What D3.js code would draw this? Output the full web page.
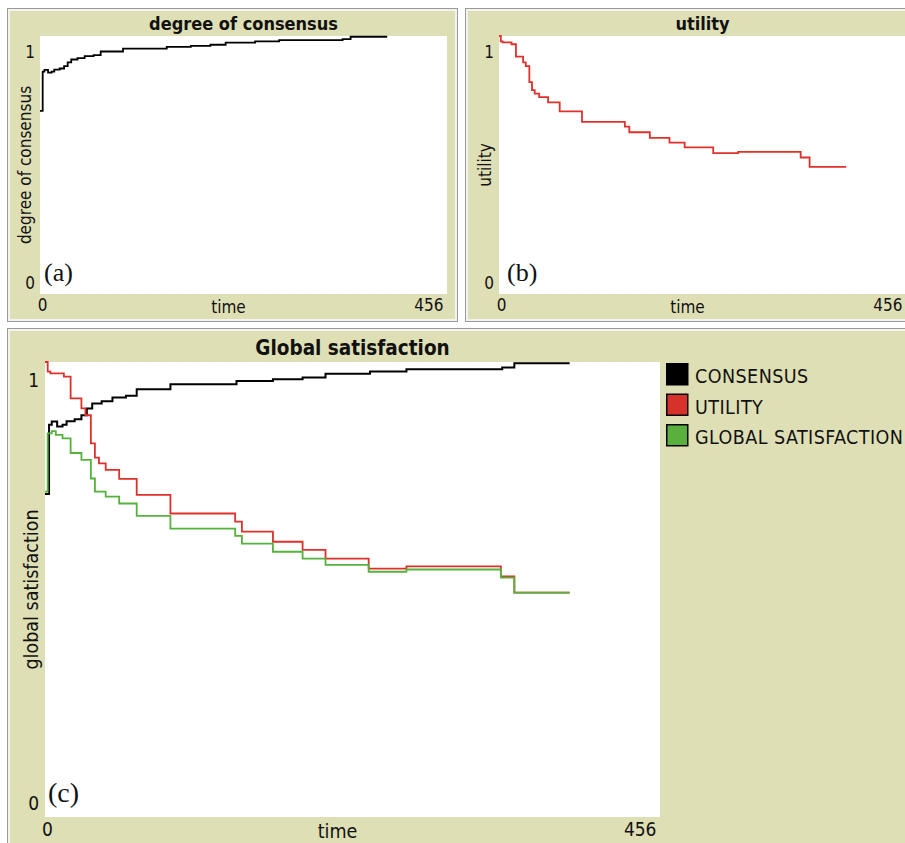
<!DOCTYPE html>
<html>
<head>
<meta charset="utf-8">
<script src="https://cdn.jsdelivr.net/npm/d3@7"></script>
<style>
  html, body { margin: 0; padding: 0; background: #ffffff; }
  svg { display: block; }
  text { font-family: 'DejaVu Sans Condensed', 'DejaVu Sans', sans-serif; font-stretch: condensed; fill: #111; }
  .serif { font-family: 'Liberation Serif', 'DejaVu Serif', serif; font-stretch: normal; }
</style>
</head>
<body>
<script>
// ---------------- data ----------------
const timeMax = 456;
const xTicks = [0, 456];
const yTicks = [0, 1];

const consensusT = [0, 3, 5, 9, 13, 16, 22, 27, 31, 35, 42, 50, 60, 68, 93, 142, 169, 191, 208, 241, 268, 339, 348, 389];
const consensusV = [0.71, 0.862, 0.869, 0.858, 0.862, 0.870, 0.874, 0.883, 0.898, 0.909, 0.914, 0.922, 0.926, 0.940, 0.951, 0.958, 0.962, 0.966, 0.974, 0.979, 0.984, 0.988, 0.997, 0.997];

const utilityT = [0, 2, 4, 14, 19, 27, 30, 34, 37, 40, 45, 55, 68, 93, 141, 146, 169, 191, 208, 240, 268, 338, 348, 389];
const utilityV = [1.0, 0.979, 0.975, 0.968, 0.920, 0.898, 0.883, 0.821, 0.790, 0.777, 0.763, 0.743, 0.708, 0.667, 0.649, 0.627, 0.605, 0.587, 0.568, 0.546, 0.551, 0.529, 0.493, 0.493];

const satisfactionT = [0, 2, 5, 8, 13, 19, 27, 34, 37, 45, 55, 68, 93, 141, 146, 169, 191, 208, 240, 268, 338, 348, 389];
const satisfactionV = [0.715, 0.843, 0.848, 0.840, 0.832, 0.800, 0.785, 0.744, 0.715, 0.704, 0.689, 0.662, 0.634, 0.618, 0.601, 0.583, 0.568, 0.554, 0.539, 0.544, 0.526, 0.493, 0.493];

const seriesNames = ["CONSENSUS", "UTILITY", "GLOBAL SATISFACTION"];
const seriesColors = ["#000000", "#e0302a", "#55b23c"];
const legendColors = ["#000000", "#d73229", "#59b03c"];

const toPoints = (T, V) => T.map((t, i) => ({ t: t, v: V[i] }));
const consensus = toPoints(consensusT, consensusV);
const utility = toPoints(utilityT, utilityV);
const satisfaction = toPoints(satisfactionT, satisfactionV);

// ---------------- drawing ----------------
const W = 905, H = 843;
const TAN = "#dfdfb6";
const svg = d3.select("body").append("svg").attr("width", W).attr("height", H);
svg.append("rect").attr("width", W).attr("height", H).attr("fill", "#ffffff");

function frame(x, y, w, h) {
  svg.append("rect").attr("x", x + 0.5).attr("y", y + 0.5).attr("width", w).attr("height", h)
    .attr("fill", TAN).attr("stroke", "#9a9a9a").attr("stroke-width", 1);
  svg.append("rect").attr("x", x + 2).attr("y", y + 2).attr("width", w - 3).attr("height", h - 3)
    .attr("fill", "none").attr("stroke", "#f4f4ee").attr("stroke-width", 2);
}

function panel(cfg) {
  const g = svg.append("g");
  g.append("rect").attr("x", cfg.px).attr("y", cfg.py).attr("width", cfg.pw).attr("height", cfg.ph).attr("fill", "#ffffff");

  const x = d3.scaleLinear().domain([0, timeMax]).range([cfg.px, cfg.px + cfg.pw]);
  const y = d3.scaleLinear().domain([0, 1]).range([cfg.py + cfg.ph, cfg.py]);

  // title
  g.append("text").attr("x", cfg.px + cfg.pw / 2).attr("y", cfg.titleY)
    .attr("text-anchor", "middle").attr("font-weight", "bold").attr("font-size", cfg.titleSize)
    .text(cfg.title);

  // y axis
  const ya = g.append("g").attr("transform", `translate(${cfg.px},0)`)
    .call(d3.axisLeft(y).tickValues(yTicks).tickSize(0).tickPadding(cfg.yPad).tickFormat(d3.format("d")));
  ya.select(".domain").remove();
  ya.selectAll("text").attr("font-size", cfg.tickSize).attr("font-family", null).attr("fill", "#111")
    .attr("dy", d => (d === 1 ? cfg.topOff : -cfg.botOff) + 0.33 * cfg.tickSize);

  // x axis
  const xa = g.append("g").attr("transform", `translate(0,${cfg.py + cfg.ph})`)
    .call(d3.axisBottom(x).tickValues(xTicks).tickSize(0).tickPadding(cfg.xPad).tickFormat(d3.format("d")));
  xa.select(".domain").remove();
  xa.selectAll("text").attr("font-size", cfg.tickSize).attr("font-family", null).attr("fill", "#111")
    .attr("text-anchor", d => d === 0 ? "middle" : "end")
    .attr("dx", d => d === 0 ? 2 : -4);

  // axis titles
  g.append("text").attr("x", cfg.px + cfg.pw / 2 - cfg.timeShift).attr("y", cfg.timeY)
    .attr("text-anchor", "middle").attr("font-size", cfg.labelSize).text("time");
  g.append("text").attr("transform", `translate(${cfg.yLabelX},${cfg.py + cfg.ph / 2}) rotate(-90)`)
    .attr("text-anchor", "middle").attr("dy", "0.36em").attr("font-size", cfg.labelSize).text(cfg.yLabel);

  // series
  const line = d3.line().x(d => x(d.t)).y(d => y(d.v)).curve(d3.curveStepAfter);
  cfg.series.forEach(s => {
    g.append("path").datum(s.data).attr("d", line).attr("fill", "none")
      .attr("stroke", s.color).attr("stroke-width", s.width).attr("stroke-linejoin", "miter");
  });

  // panel tag
  g.append("text").attr("class", "serif").attr("x", cfg.px + cfg.tagDx).attr("y", cfg.py + cfg.ph - cfg.tagDy)
    .attr("font-size", cfg.tagSize).text(cfg.tag);
  return { x, y };
}

// frames
frame(7, 8, 450, 313);
frame(465, 8, 460, 313);
frame(7, 328, 920, 530);

// (a) degree of consensus
panel({
  px: 40, py: 36, pw: 407, ph: 258,
  title: "degree of consensus", titleY: 30, titleSize: 18,
  yLabel: "degree of consensus", yLabelX: 25, labelSize: 17,
  tickSize: 17, yPad: 5, xPad: 5, topOff: 16, botOff: 11, timeY: 313, timeShift: 15,
  series: [{ data: consensus, color: seriesColors[0], width: 1.8 }],
  tag: "(a)", tagDx: 4, tagDy: 13, tagSize: 26
});

// (b) utility
panel({
  px: 499, py: 36, pw: 407, ph: 258,
  title: "utility", titleY: 30, titleSize: 18,
  yLabel: "utility", yLabelX: 485, labelSize: 17,
  tickSize: 17, yPad: 5, xPad: 5, topOff: 16, botOff: 11, timeY: 313, timeShift: 15,
  series: [{ data: utility, color: seriesColors[1], width: 1.8 }],
  tag: "(b)", tagDx: 8, tagDy: 13, tagSize: 26
});

// (c) global satisfaction
panel({
  px: 45, py: 362, pw: 615, ph: 455,
  title: "Global satisfaction", titleY: 355, titleSize: 20.5,
  yLabel: "global satisfaction", yLabelX: 31, labelSize: 19.5,
  tickSize: 19, yPad: 6, xPad: 6, topOff: 18, botOff: 14, timeY: 838, timeShift: 15,
  series: [
    { data: consensus, color: seriesColors[0], width: 2 },
    { data: utility, color: seriesColors[1], width: 1.8 },
    { data: satisfaction, color: seriesColors[2], width: 1.8 }
  ],
  tag: "(c)", tagDx: 3, tagDy: 15, tagSize: 28
});

// legend
const leg = svg.append("g").attr("transform", "translate(666,363)");
seriesNames.forEach((name, i) => {
  const row = leg.append("g").attr("transform", `translate(0,${i * 30.5})`);
  row.append("rect").attr("x", 0.75).attr("y", 0.75).attr("width", 21).attr("height", 21)
    .attr("fill", legendColors[i]).attr("stroke", "#000").attr("stroke-width", 1.5);
  row.append("text").attr("x", 29).attr("y", 20).attr("font-size", 19.5).attr("letter-spacing", 0.45).text(name);
});
</script>
</body>
</html>
